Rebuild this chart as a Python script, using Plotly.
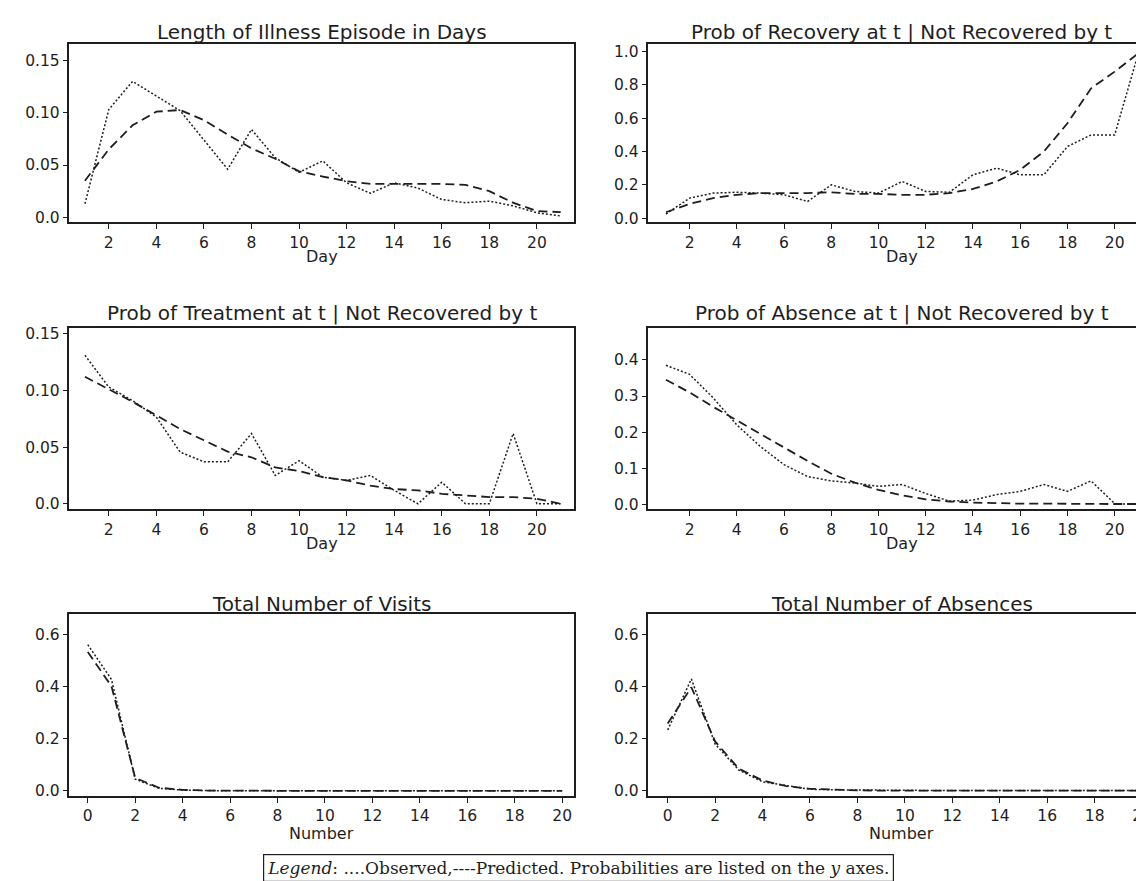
import plotly.graph_objects as go

W, H = 1144, 881

days = list(range(1, 22))
numbers = list(range(0, 21))

# Length of illness episode in days
illness_obs = [0.013, 0.103, 0.130, 0.116, 0.102, 0.074, 0.046, 0.084, 0.057, 0.043, 0.054,
               0.033, 0.023, 0.033, 0.028, 0.017, 0.014, 0.0155, 0.011, 0.0044, 0.0013]
illness_pred = [0.035, 0.065, 0.088, 0.101, 0.1026, 0.093, 0.079, 0.066, 0.056, 0.044, 0.039,
                0.0345, 0.032, 0.032, 0.032, 0.032, 0.031, 0.025, 0.014, 0.006, 0.005]

# Prob of recovery at t | not recovered by t
recov_obs = [0.024, 0.12, 0.15, 0.155, 0.15, 0.14, 0.10, 0.20, 0.16, 0.15, 0.22,
             0.16, 0.155, 0.26, 0.30, 0.26, 0.26, 0.43, 0.50, 0.50, 0.99]
recov_pred = [0.035, 0.085, 0.12, 0.14, 0.15, 0.15, 0.15, 0.155, 0.145, 0.145, 0.14,
              0.14, 0.15, 0.175, 0.22, 0.29, 0.40, 0.57, 0.78, 0.88, 0.99]

# Prob of treatment at t | not recovered by t
treat_obs = [0.131, 0.103, 0.091, 0.0765, 0.0456, 0.037, 0.037, 0.062, 0.025, 0.038, 0.0235,
             0.0206, 0.025, 0.0118, 0.0, 0.019, 0.0, 0.0, 0.062, 0.0, 0.0]
treat_pred = [0.112, 0.101, 0.090, 0.078, 0.066, 0.056, 0.046, 0.041, 0.032, 0.029, 0.0235,
              0.0206, 0.016, 0.013, 0.0118, 0.0088, 0.0074, 0.0059, 0.0059, 0.0044, 0.0]

# Prob of absence at t | not recovered by t
absent_obs = [0.385, 0.36, 0.295, 0.22, 0.16, 0.11, 0.077, 0.065, 0.059, 0.05, 0.055,
              0.03, 0.009, 0.012, 0.027, 0.036, 0.055, 0.036, 0.065, 0.002, 0.0]
absent_pred = [0.345, 0.31, 0.27, 0.232, 0.195, 0.158, 0.12, 0.085, 0.06, 0.04, 0.025,
               0.014, 0.008, 0.005, 0.003, 0.002, 0.002, 0.001, 0.001, 0.001, 0.001]

# Total number of visits
visits_obs = [0.562, 0.428, 0.045, 0.01, 0.003, 0.001, 0.0, 0.0, 0.0, 0.0, 0.0,
              0.0, 0.0, 0.0, 0.0, 0.0, 0.0, 0.0, 0.0, 0.0, 0.0]
visits_pred = [0.534, 0.402, 0.05, 0.012, 0.004, 0.001, 0.001, 0.0, 0.0, 0.0, 0.0,
               0.0, 0.0, 0.0, 0.0, 0.0, 0.0, 0.0, 0.0, 0.0, 0.0]

# Total number of absences
absences_obs = [0.234, 0.43, 0.18, 0.08, 0.035, 0.02, 0.006, 0.004, 0.003, 0.002, 0.002,
                0.002, 0.001, 0.001, 0.001, 0.001, 0.001, 0.001, 0.001, 0.001, 0.001]
absences_pred = [0.259, 0.398, 0.19, 0.085, 0.04, 0.018, 0.008, 0.004, 0.002, 0.001, 0.001,
                 0.001, 0.001, 0.001, 0.001, 0.001, 0.001, 0.001, 0.001, 0.001, 0.001]

titles = ["Length of Illness Episode in Days",
          "Prob of Recovery at t | Not Recovered by t",
          "Prob of Treatment at t | Not Recovered by t",
          "Prob of Absence at t | Not Recovered by t",
          "Total Number of Visits",
          "Total Number of Absences"]
xlabels = ["Day", "Day", "Day", "Day", "Number", "Number"]

day_ticks = [2, 4, 6, 8, 10, 12, 14, 16, 18, 20]
num_ticks = [0, 2, 4, 6, 8, 10, 12, 14, 16, 18, 20]
small_yvals = [0.0, 0.05, 0.10, 0.15]
small_ytext = ["0.0", "0.05", "0.10", "0.15"]
recov_yvals = [0.0, 0.2, 0.4, 0.6, 0.8, 1.0]
recov_ytext = ["0.0", "0.2", "0.4", "0.6", "0.8", "1.0"]
absent_yvals = [0.0, 0.1, 0.2, 0.3, 0.4]
absent_ytext = ["0.0", "0.1", "0.2", "0.3", "0.4"]
count_yvals = [0.0, 0.2, 0.4, 0.6]
count_ytext = ["0.0", "0.2", "0.4", "0.6"]

panels = [
    (days, illness_obs, illness_pred, day_ticks, small_yvals, small_ytext),
    (days, recov_obs, recov_pred, day_ticks, recov_yvals, recov_ytext),
    (days, treat_obs, treat_pred, day_ticks, small_yvals, small_ytext),
    (days, absent_obs, absent_pred, day_ticks, absent_yvals, absent_ytext),
    (numbers, visits_obs, visits_pred, num_ticks, count_yvals, count_ytext),
    (numbers, absences_obs, absences_pred, num_ticks, count_yvals, count_ytext),
]

# layout geometry (pixels)
col_x = [(61, 568), (642, 1144)]
col_center = [315, 897]
row_y = [(33, 213), (320, 503), (609, 792)]
title_y = [21, 305, 598]
xlabel_y = [248, 537, 830]
xranges = [[0.32, 21.56], [0.23, 21.41], [0.32, 21.56], [0.23, 21.41], [-0.8, 20.5], [-0.84, 20.25]]
yranges = [[-0.0045, 0.166], [-0.024, 1.048], [-0.005, 0.155], [-0.014, 0.488], [-0.019, 0.678], [-0.019, 0.678]]

ink = "#1e1e1e"
font_sans = "DejaVu Sans, Liberation Sans, sans-serif"

fig = go.Figure()
annotations = []

for i, (xs, obs, pred, xt, yv, yt) in enumerate(panels):
    r, c = divmod(i, 2)
    n = i + 1
    xa = "x" if n == 1 else f"x{n}"
    ya = "y" if n == 1 else f"y{n}"
    fig.add_trace(go.Scatter(x=xs, y=pred, mode="lines", xaxis=xa, yaxis=ya, showlegend=False,
                             line=dict(color=ink, width=1.8, dash="9px,5px")))
    fig.add_trace(go.Scatter(x=xs, y=obs, mode="lines", xaxis=xa, yaxis=ya, showlegend=False,
                             line=dict(color=ink, width=1.5, dash="2px,2px")))
    x0, x1 = col_x[c]
    y0, y1 = row_y[r]
    axis_common = dict(showline=True, linecolor=ink, linewidth=2,
                       showgrid=False, zeroline=False, ticks="outside", ticklen=5,
                       tickwidth=1.2, tickcolor=ink,
                       tickfont=dict(family=font_sans, size=15.5, color=ink))
    fig.layout[f"xaxis{'' if n == 1 else n}"] = dict(
        axis_common, mirror=True, domain=[x0 / W, x1 / W], anchor=ya, range=xranges[i],
        tickvals=xt, ticktext=[str(v) for v in xt], ticklabeloverflow="allow")
    fig.layout[f"yaxis{'' if n == 1 else n}"] = dict(
        axis_common, mirror=(c == 0), domain=[1 - y1 / H, 1 - y0 / H], anchor=xa,
        range=yranges[i], tickvals=yv, ticktext=yt, ticklen=4)
    annotations.append(dict(text=titles[i], x=col_center[c] / W, y=1 - title_y[r] / H,
                            xref="paper", yref="paper", xanchor="center", yanchor="middle",
                            showarrow=False, font=dict(family=font_sans, size=20, color=ink)))
    annotations.append(dict(text=xlabels[i], x=col_center[c] / W, y=1 - xlabel_y[r] / H,
                            xref="paper", yref="paper", xanchor="center", yanchor="middle",
                            showarrow=False, font=dict(family=font_sans, size=16, color=ink)))

annotations.append(dict(
    text="<i>Legend</i>: ....Observed,----Predicted. Probabilities are listed on the <i>y</i> axes.",
    x=572 / W, y=1 - 865 / H, xref="paper", yref="paper", xanchor="center", yanchor="middle",
    showarrow=False, bordercolor=ink, borderwidth=1.2, borderpad=3, bgcolor="white",
    font=dict(family="DejaVu Serif, Liberation Serif, serif", size=17, color=ink)))

fig.update_layout(width=W, height=H, margin=dict(l=0, r=0, t=0, b=0),
                  paper_bgcolor="white", plot_bgcolor="white", annotations=annotations)

fig.write_html("out.html")
